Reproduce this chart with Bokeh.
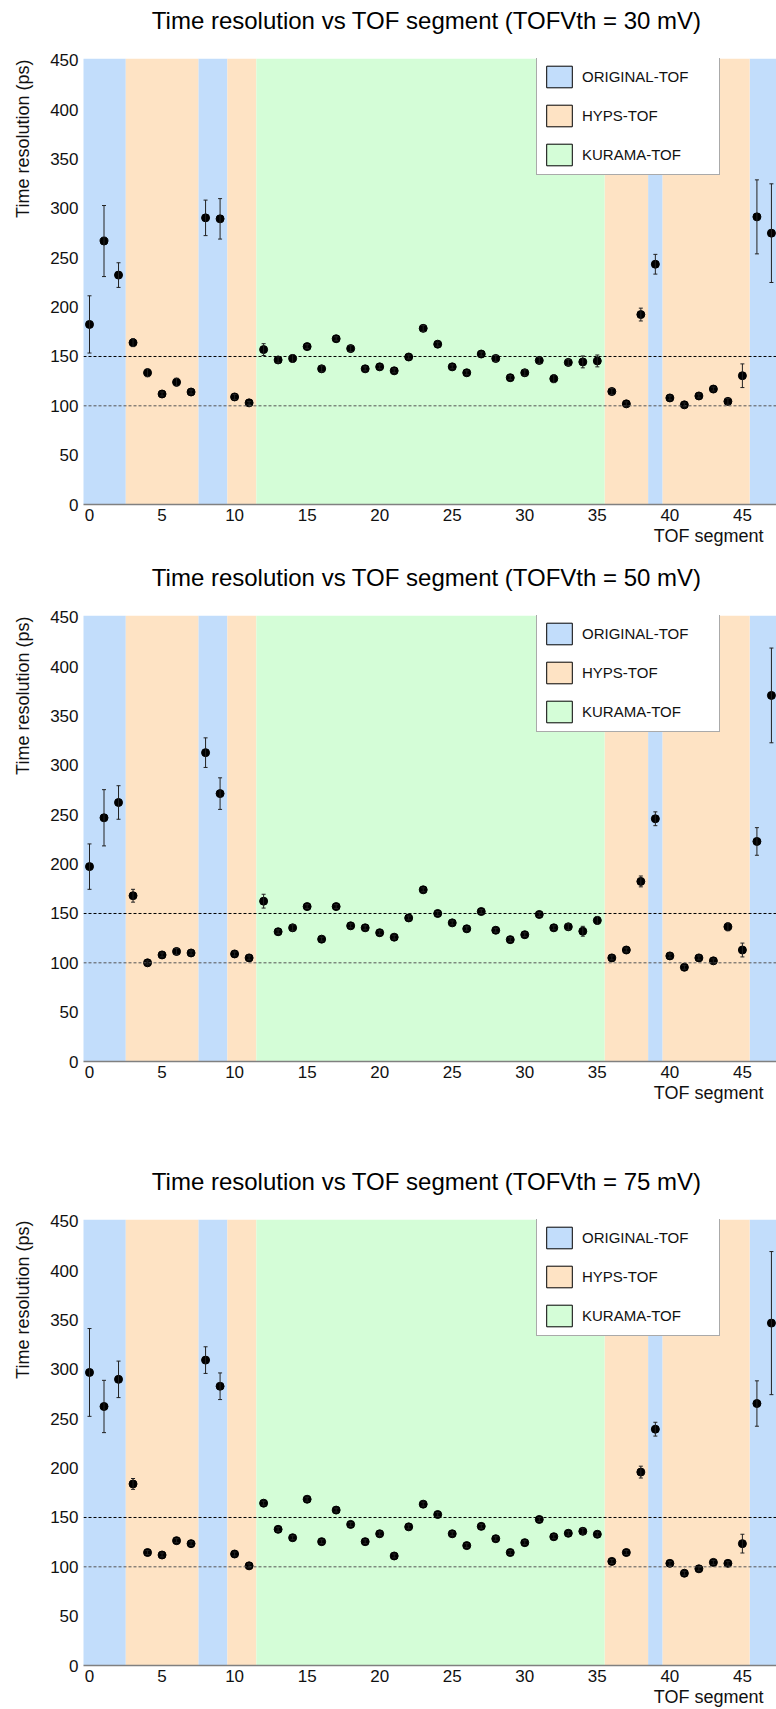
import numpy as np
from bokeh.plotting import figure
from bokeh.models import (ColumnDataSource, Whisker, TeeHead, Span, Title, Label,
                          Legend, LegendItem, FixedTicker, LinearAxis)
from bokeh.layouts import column, row
from bokeh.embed import file_html
from bokeh.resources import INLINE

# ---------------- data ----------------
segments = list(range(48))

res_30 = [182.5, 267, 232.5, 164, 133.5, 112, 124, 114, 290.5, 289.5, 109, 103,
          157, 146.5, 148, 160, 137.5, 168, 158, 137.5, 139.5, 135.5, 149.5, 178.5,
          162.5, 139.5, 133.5, 152.5, 148, 128.5, 133.5, 146, 127.5, 144, 144.5, 145.5,
          114.5, 102, 192.5, 243.5, 108, 101, 110, 117, 104.5, 130.5, 291.5, 275]
err_30 = [29, 36, 12.5, 4, 4, 2, 4, 2, 18, 20.5, 2.5, 1.5,
          6, 3, 4, 2, 3, 2, 3, 2, 2, 2, 2, 3,
          2, 2, 2, 2, 3, 2, 3, 3, 4, 3, 6, 6,
          3, 2, 6.5, 10, 2, 2, 2, 2, 3, 12, 37.5, 50]

res_50 = [197.5, 247, 262.5, 168, 100, 108, 111.5, 110, 313, 271.5, 109, 105,
          162.5, 131.5, 135.5, 157, 124, 157, 137.5, 135.5, 130.5, 126, 145.5, 174,
          150, 140.5, 134.5, 152, 133, 123.5, 128.5, 149, 135.5, 136.5, 132, 143,
          105, 113, 182.5, 246, 107, 95.5, 105, 102, 136.5, 113, 223, 371]
err_50 = [23, 28.5, 17, 6.5, 2, 2, 3, 2, 15, 16, 2, 2,
          7, 2, 3, 2, 2, 2, 2, 2, 2, 2, 2, 2,
          2, 2, 2, 2, 2, 2, 2, 2, 2, 3, 5, 4,
          2, 2, 5.5, 7, 2, 2, 2, 2, 4, 7, 14, 48]

res_75 = [297, 262.5, 290, 184, 114.5, 112, 126.5, 123.5, 309.5, 283, 113, 101,
          164.5, 138, 129.5, 168.5, 125.5, 157.5, 143, 125.5, 133.5, 111, 140.5, 163.5,
          153, 133.5, 121.5, 141, 128.5, 114.5, 124.5, 148, 130.5, 134, 136, 133,
          105.5, 114.5, 196, 239.5, 103.5, 93.5, 98, 104.5, 103.5, 123.5, 265.5, 347]
err_75 = [44.5, 26.5, 18.5, 5.5, 2, 2, 2, 2, 13.5, 13.5, 2, 2,
          2, 2, 2, 2, 2, 2, 2, 2, 2, 2, 2, 2,
          2, 2, 2, 2, 2, 2, 2, 2, 2, 2, 3, 2,
          2, 2, 6, 7, 2, 2, 2, 2, 2, 9.5, 23, 72.5]

thresholds = ["30", "50", "75"]

# detector groups (first, last segment)
original_groups = [(0, 2), (8, 9), (39, 39), (46, 47)]
hyps_groups = [(3, 7), (10, 11), (36, 38), (40, 45)]
kurama_groups = [(12, 35)]
group_names = ["ORIGINAL-TOF", "HYPS-TOF", "KURAMA-TOF"]

x_ticks = [0, 5, 10, 15, 20, 25, 30, 35, 40, 45]
y_ticks = [0, 50, 100, 150, 200, 250, 300, 350, 400, 450]
ref_lines = [150, 100]

# ---------------- style ----------------
FONT = "Liberation Sans"
COLORS = {"ORIGINAL-TOF": "#C2DDFB", "HYPS-TOF": "#FEE3C4", "KURAMA-TOF": "#D4FDD7"}
Y_MAX = 452
W = 776
STRIP = 42          # left strip holding the rotated y-axis label
FH = 446
TOP = 58


def make_strip(height):
    s = figure(width=STRIP, height=height, x_range=(0, 1), y_range=(0, 1),
               output_backend="svg", toolbar_location=None, title=None,
               x_axis_location=None, y_axis_location=None,
               min_border_left=0, min_border_right=0, min_border_top=0, min_border_bottom=0)
    s.outline_line_color = None
    s.grid.visible = False
    s.border_fill_color = "white"
    s.background_fill_color = "white"
    # the strip's frame is aligned with the main frame by the row layout
    s.add_layout(Label(x=22, y=FH - 1, x_units="screen", y_units="screen",
                       text="Time resolution (ps)", angle=np.pi / 2,
                       text_font=FONT, text_font_size="18px", text_color="#111111",
                       text_align="right", text_baseline="alphabetic"))
    return s


def make_panel(vth, res, err, height, border_bottom):
    p = figure(width=W - STRIP, height=height, x_range=(-0.414, 47.35), y_range=(0, Y_MAX),
               output_backend="svg", toolbar_location=None, title=None,
               min_border_left=83 - STRIP, min_border_right=0, min_border_top=TOP,
               min_border_bottom=border_bottom)
    p.outline_line_color = None
    p.grid.visible = False
    p.background_fill_color = "white"
    p.border_fill_color = "white"

    items = []
    for name, groups in zip(group_names, [original_groups, hyps_groups, kurama_groups]):
        left = [g[0] - 0.5 for g in groups]
        right = [g[1] + 0.5 for g in groups]
        p.quad(left=left, right=right, bottom=0, top=Y_MAX,
               fill_color=COLORS[name], line_color=None)
        dummy = p.quad(left=left, right=right, bottom=0, top=Y_MAX,
                       fill_color=COLORS[name], line_color="black", line_width=1)
        dummy.visible = False
        items.append(LegendItem(label=name, renderers=[dummy]))

    for i, yv in enumerate(ref_lines):
        p.add_layout(Span(location=yv, dimension="width",
                          line_color="black" if i == 0 else "#555555",
                          line_dash="3 2", line_width=1))

    src = ColumnDataSource(dict(
        x=segments, y=res,
        upper=[r + e for r, e in zip(res, err)],
        lower=[r - e for r, e in zip(res, err)]))
    w = Whisker(base="x", upper="upper", lower="lower", source=src, level="annotation",
                line_color="#222222", line_width=1,
                upper_head=TeeHead(size=4, line_color="#222222", line_width=1),
                lower_head=TeeHead(size=4, line_color="#222222", line_width=1))
    p.add_layout(w)
    p.scatter("x", "y", source=src, size=8, color="black", level="annotation")

    legend = Legend(items=items, location=(453, FH - 117), orientation="vertical",
                    padding=6, spacing=12, glyph_width=32, glyph_height=27,
                    label_standoff=7, label_width=131, margin=0,
                    inactive_fill_alpha=0,
                    label_text_font=FONT, label_text_font_size="15px",
                    label_text_color="#111111",
                    border_line_color="#555555", border_line_width=1,
                    background_fill_color="white", background_fill_alpha=1)
    p.add_layout(legend)

    # axes
    p.xaxis.ticker = FixedTicker(ticks=x_ticks)
    p.yaxis.ticker = FixedTicker(ticks=y_ticks)
    for ax in (p.xaxis, p.yaxis):
        ax.major_label_text_font = FONT
        ax.major_label_text_font_size = "17px"
        ax.major_label_text_color = "#111111"
        ax.major_tick_line_color = None
        ax.minor_tick_line_color = None
        ax.major_tick_out = 0
        ax.minor_tick_out = 0
    p.xaxis.axis_line_color = "#808080"
    p.xaxis.axis_line_width = 1.5
    p.yaxis.axis_line_color = None
    p.xaxis.major_label_standoff = 4
    p.yaxis.major_label_standoff = 5

    # main title as an extra, tick-less axis above the frame (centred on the frame)
    tax = LinearAxis(ticker=FixedTicker(ticks=[]),
                     axis_label=f"Time resolution  vs TOF segment (TOFVth = {vth} mV)",
                     axis_label_standoff=25, axis_label_text_font=FONT,
                     axis_label_text_font_size="24px", axis_label_text_font_style="normal",
                     axis_label_text_color="black", axis_line_color=None,
                     major_tick_line_color=None, minor_tick_line_color=None,
                     major_tick_out=0, major_tick_in=0, minor_tick_out=0, minor_tick_in=0,
                     major_label_standoff=0)
    p.add_layout(tax, "above")

    # x label
    p.add_layout(Title(text="TOF segment", align="right", offset=13, standoff=0,
                       text_font=FONT, text_font_size="18px", text_font_style="normal",
                       text_color="#111111"), "below")
    return row(make_strip(height), p, spacing=0)


r1 = make_panel(thresholds[0], res_30, err_30, 557, 53)
r2 = make_panel(thresholds[1], res_50, err_50, 604, 100)
r3 = make_panel(thresholds[2], res_75, err_75, 548, 44)

layout = column(r1, r2, r3, spacing=0)
open("out.html", "w").write(file_html(layout, INLINE))
